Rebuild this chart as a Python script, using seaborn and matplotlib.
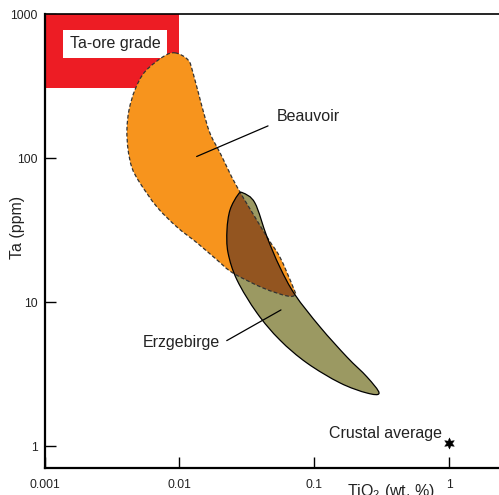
import numpy as np
import pandas as pd
import matplotlib
matplotlib.use("Agg")
import matplotlib.pyplot as plt
import seaborn as sns
from matplotlib.patches import PathPatch, Rectangle
from matplotlib.path import Path
from matplotlib.ticker import FixedLocator, NullLocator

# ---- data (TiO2 wt.%, Ta ppm) ----
beauvoir_tio2 = [0.00927, 0.01156, 0.0126, 0.0147, 0.0168, 0.020, 0.0267, 0.0445,
                 0.0554, 0.0694, 0.0718, 0.0625, 0.0416, 0.0249, 0.0190, 0.0135,
                 0.00957, 0.00681, 0.00509, 0.00445, 0.00416, 0.00408, 0.00423,
                 0.00468, 0.00554, 0.00755]
beauvoir_ta = [540, 483, 392, 228, 150, 109, 63.4, 28.5,
               20.7, 12.8, 11.3, 11.1, 12.6, 16.0, 19.7, 25.9,
               33.4, 46.0, 67.6, 85.9, 115, 158, 217,
               299, 399, 507]

erz_tio2 = [0.0295, 0.0362, 0.0445, 0.0554, 0.0718, 0.110, 0.174, 0.245, 0.301,
            0.245, 0.155, 0.0879, 0.0554, 0.0375, 0.0267, 0.0229, 0.0225, 0.0237, 0.0271]
erz_ta = [57.6, 49.1, 28.5, 17.6, 11.3, 6.76, 4.18, 3.04, 2.35,
          2.35, 2.76, 3.80, 5.49, 8.45, 14.3, 22.1, 31.9, 43.9, 55.8]

ore_tio2 = [0.001, 0.0099]
ore_ta = [310, 1000]

crust_tio2 = [1.0]
crust_ta = [1.05]

xticks = [0.001, 0.01, 0.1, 1]
xticklabels = ["0.001", "0.01", "0.1", "1"]
yticks = [1, 10, 100, 1000]
yticklabels = ["1", "10", "100", "1000"]


def smooth_closed_path(xs, ys, tension=6.0):
    """Closed Catmull-Rom outline through the given vertices (built in log space)."""
    p = np.log10(np.column_stack([xs, ys]))
    n = len(p)
    verts = [p[0]]
    codes = [Path.MOVETO]
    for i in range(n):
        p0, p1, p2, p3 = p[i - 1], p[i], p[(i + 1) % n], p[(i + 2) % n]
        c1 = p1 + (p2 - p0) / tension
        c2 = p2 - (p3 - p1) / tension
        verts += [c1, c2, p2]
        codes += [Path.CURVE4] * 3
    verts.append(p[0])
    codes.append(Path.CLOSEPOLY)
    return Path(10 ** np.array(verts), codes)


# ---- style ----
sns.set_style("ticks")
plt.rcParams["font.family"] = ["Liberation Sans", "DejaVu Sans"]
plt.rcParams["mathtext.fontset"] = "custom"
plt.rcParams["mathtext.rm"] = "Liberation Sans"
plt.rcParams["mathtext.default"] = "regular"

ORANGE = "#f7941d"
OLIVE = "#9b9962"
BROWN = "#935520"
RED = "#ed1c24"
TXT = "#222222"

fig = plt.figure(figsize=(4.99, 4.95), dpi=100)
ax = fig.add_axes([44.5 / 499, 27 / 495, 454.5 / 499, 453.7 / 495])
ax.set_xscale("log")
ax.set_yscale("log")
ax.set_xlim(0.001, 2.33)
ax.set_ylim(0.709, 1000)

# Ta-ore grade field
ax.add_patch(Rectangle((ore_tio2[0], ore_ta[0]), ore_tio2[1] - ore_tio2[0],
                       ore_ta[1] - ore_ta[0], facecolor=RED, edgecolor="none", zorder=1))
ax.text(0.00333, 624, "Ta-ore grade", fontsize=11.5, ha="center", va="center", zorder=1.5,
        color=TXT,
        bbox=dict(boxstyle="square,pad=0.4", facecolor="white", edgecolor="none"))

bv_path = smooth_closed_path(beauvoir_tio2, beauvoir_ta)
ez_path = smooth_closed_path(erz_tio2, erz_ta)

bv_fill = PathPatch(bv_path, facecolor=ORANGE, edgecolor="none", zorder=2)
ax.add_patch(bv_fill)
ax.add_patch(PathPatch(ez_path, facecolor=OLIVE, edgecolor="none", zorder=3))
overlap = PathPatch(ez_path, facecolor=BROWN, edgecolor="none", zorder=4)
ax.add_patch(overlap)
overlap.set_clip_path(bv_fill)

ax.add_patch(PathPatch(bv_path, fill=False, edgecolor="#333333", lw=0.9,
                       linestyle=(0, (3, 1.8)), zorder=5))
ax.add_patch(PathPatch(ez_path, fill=False, edgecolor="black", lw=0.9, zorder=6))

# crustal average
crust = pd.DataFrame({"TiO2": crust_tio2, "Ta": crust_ta})
sns.scatterplot(data=crust, x="TiO2", y="Ta", marker=(6, 1, 0), s=65, color="black",
                edgecolor="black", linewidth=0.3, ax=ax, zorder=7, legend=False)

# labels with leader lines
ax.annotate("", xy=(0.0134, 103), xytext=(0.0453, 168),
            arrowprops=dict(arrowstyle="-", color="black", lw=0.9, shrinkA=0, shrinkB=0), zorder=8)
ax.text(0.0527, 194, "Beauvoir", fontsize=11.5, ha="left", va="center", color=TXT)
ax.annotate("", xy=(0.0224, 5.43), xytext=(0.0565, 8.87),
            arrowprops=dict(arrowstyle="-", color="black", lw=0.9, shrinkA=0, shrinkB=0), zorder=8)
ax.text(0.0200, 5.23, "Erzgebirge", fontsize=11.5, ha="right", va="center", color=TXT)
ax.text(0.879, 1.24, "Crustal average", fontsize=11.5, ha="right", va="center", color=TXT)

# axes styling
ax.xaxis.set_major_locator(FixedLocator(xticks))
ax.yaxis.set_major_locator(FixedLocator(yticks))
ax.set_xticklabels(xticklabels)
ax.set_yticklabels(yticklabels)
ax.xaxis.set_minor_locator(NullLocator())
ax.yaxis.set_minor_locator(NullLocator())
ax.tick_params(axis="both", direction="in", length=8, width=1, colors="black",
               labelcolor=TXT, labelsize=8.7)
ax.tick_params(axis="x", pad=8)
ax.tick_params(axis="y", pad=5)

ax.set_xlabel("TiO$_2$ (wt. %)", fontsize=11.5, color=TXT)
ax.set_ylabel("Ta (ppm)", fontsize=11.5, color=TXT)
ax.xaxis.set_label_coords(0.762, -0.031)
ax.yaxis.set_label_coords(-0.043, 0.53)

for side in ["left", "bottom"]:
    ax.spines[side].set_linewidth(1.6)
    ax.spines[side].set_color("black")
ax.spines["top"].set_linewidth(1.2)
ax.spines["top"].set_color("black")
ax.spines["right"].set_visible(False)
ax.set_facecolor("white")

fig.savefig("out.png", dpi=100)
